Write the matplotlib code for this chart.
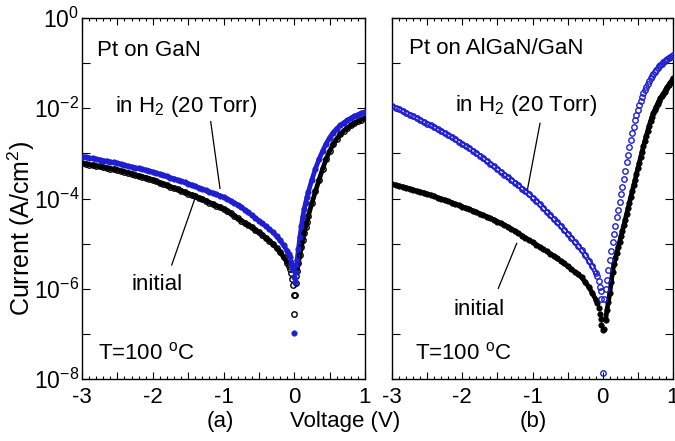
import numpy as np
import matplotlib
matplotlib.use('Agg')
import matplotlib.pyplot as plt
from matplotlib.ticker import MultipleLocator, FixedLocator, FuncFormatter, NullLocator

plt.rcParams['font.family'] = ['Liberation Sans', 'DejaVu Sans']
plt.rcParams['mathtext.fontset'] = 'custom'
plt.rcParams['mathtext.rm'] = 'Liberation Sans'
plt.rcParams['mathtext.it'] = 'Liberation Sans:italic'
plt.rcParams['mathtext.bf'] = 'Liberation Sans:bold'
plt.rcParams['mathtext.default'] = 'regular'
plt.rcParams['axes.unicode_minus'] = False

BLUE = '#1e1ed2'
BLACK = '#000000'

# ---------------- data: log10 of current density (A/cm^2) ----------------
# reverse sweep voltages -3.00 ... -0.10 V (0.05 V step)
v_rev = np.linspace(-3.0, -0.10, 59)

# Panel (a): Pt on GaN
a_init_rev = [-3.22, -3.23, -3.25, -3.26, -3.28, -3.29, -3.31, -3.32, -3.34, -3.35,
              -3.37, -3.39, -3.41, -3.43, -3.45, -3.48, -3.50, -3.52, -3.54, -3.57,
              -3.59, -3.62, -3.65, -3.68, -3.71, -3.74, -3.77, -3.80, -3.83, -3.86,
              -3.89, -3.92, -3.95, -3.99, -4.02, -4.05, -4.09, -4.12, -4.16, -4.19,
              -4.23, -4.28, -4.33, -4.38, -4.44, -4.49, -4.54, -4.59, -4.64, -4.70,
              -4.75, -4.81, -4.88, -4.94, -5.01, -5.10, -5.19, -5.30, -5.42]
a_h2_rev = [-3.07, -3.08, -3.10, -3.11, -3.13, -3.14, -3.16, -3.17, -3.19, -3.20,
            -3.22, -3.24, -3.26, -3.28, -3.30, -3.32, -3.33, -3.35, -3.37, -3.39,
            -3.41, -3.44, -3.46, -3.49, -3.51, -3.54, -3.56, -3.59, -3.62, -3.64,
            -3.67, -3.70, -3.73, -3.76, -3.79, -3.82, -3.85, -3.88, -3.91, -3.94,
            -3.97, -4.01, -4.05, -4.10, -4.14, -4.19, -4.25, -4.31, -4.37, -4.43,
            -4.49, -4.55, -4.62, -4.68, -4.75, -4.84, -4.93, -5.04, -5.16]
a_near_v = [-0.08, -0.06, -0.04, -0.03, -0.02, -0.01, 0.00, 0.01, 0.02, 0.03]
a_init_near = [-5.49, -5.57, -5.66, -5.78, -5.92, -6.13, -6.56, -6.14, -5.88, -5.72]
a_h2_near = [-5.23, -5.30, -5.40, -5.48, -5.58, -5.75, -6.98, -5.85, -5.62, -5.48]
a_fwd_v = [0.04, 0.06, 0.08, 0.10, 0.12, 0.14, 0.16, 0.18, 0.20, 0.25, 0.30, 0.35, 0.40,
           0.45, 0.50, 0.55, 0.60, 0.65, 0.70, 0.75, 0.80, 0.85, 0.90, 0.95, 1.00]
a_init_fwd = [-5.60, -5.42, -5.25, -5.08, -4.92, -4.77, -4.64, -4.51, -4.38, -4.10, -3.84,
              -3.59, -3.35, -3.13, -2.95, -2.80, -2.68, -2.58, -2.50, -2.44, -2.38, -2.33,
              -2.29, -2.25, -2.22]
a_h2_fwd = [-5.37, -5.11, -4.85, -4.62, -4.41, -4.24, -4.10, -3.97, -3.85, -3.58, -3.34,
            -3.13, -2.95, -2.79, -2.65, -2.54, -2.45, -2.38, -2.32, -2.27, -2.22, -2.18,
            -2.14, -2.11, -2.08]

# Panel (b): Pt on AlGaN/GaN
b_init_rev = [-3.68, -3.70, -3.72, -3.74, -3.76, -3.78, -3.81, -3.83, -3.85, -3.87,
              -3.90, -3.92, -3.95, -3.98, -4.01, -4.03, -4.06, -4.09, -4.12, -4.15,
              -4.18, -4.21, -4.24, -4.27, -4.30, -4.34, -4.37, -4.40, -4.44, -4.47,
              -4.51, -4.55, -4.59, -4.63, -4.68, -4.72, -4.77, -4.82, -4.87, -4.92,
              -4.97, -5.02, -5.07, -5.12, -5.17, -5.22, -5.27, -5.32, -5.38, -5.44,
              -5.50, -5.56, -5.62, -5.68, -5.75, -5.85, -5.96, -6.09, -6.24]
b_h2_rev = [-1.95, -1.99, -2.02, -2.06, -2.10, -2.14, -2.18, -2.22, -2.26, -2.30,
            -2.34, -2.38, -2.42, -2.47, -2.51, -2.55, -2.60, -2.64, -2.69, -2.74,
            -2.79, -2.84, -2.89, -2.94, -3.00, -3.05, -3.11, -3.17, -3.23, -3.29,
            -3.35, -3.41, -3.47, -3.53, -3.59, -3.65, -3.71, -3.78, -3.84, -3.91,
            -3.98, -4.05, -4.13, -4.21, -4.29, -4.37, -4.45, -4.53, -4.61, -4.70,
            -4.78, -4.87, -4.96, -5.05, -5.15, -5.25, -5.38, -5.50, -5.65]
b_near_v = [-0.08, -0.06, -0.04, -0.03, -0.02, 0.00, 0.02]
b_init_near = [-6.32, -6.42, -6.55, -6.68, -6.80, -6.92, -6.90]
b_h2_near = [-5.72, -5.83, -5.97, -6.05, -6.22, -7.86, -6.22]
b_fwd_v = np.linspace(0.04, 1.00, 49)
b_init_fwd = [-6.70, -6.47, -6.29, -6.10, -5.86, -5.62, -5.45, -5.32, -5.20,
              -5.08, -4.96, -4.84, -4.71, -4.59, -4.47, -4.34, -4.22, -4.09, -3.96,
              -3.84, -3.71, -3.59, -3.46, -3.33, -3.21, -3.08, -2.96, -2.84, -2.72,
              -2.61, -2.50, -2.39, -2.29, -2.20, -2.11, -2.04, -1.97, -1.90, -1.84,
              -1.78, -1.73, -1.68, -1.63, -1.58, -1.53, -1.48, -1.43, -1.39, -1.34]
b_h2_fwd = [-6.00, -5.80, -5.59, -5.37, -5.17, -4.97, -4.78, -4.60, -4.42,
            -4.25, -4.08, -3.91, -3.74, -3.56, -3.38, -3.20, -3.03, -2.86, -2.70,
            -2.55, -2.41, -2.27, -2.14, -2.03, -1.93, -1.84, -1.75, -1.67, -1.60,
            -1.53, -1.46, -1.40, -1.34, -1.29, -1.24, -1.19, -1.15, -1.11, -1.07,
            -1.04, -1.01, -0.98, -0.95, -0.93, -0.90, -0.88, -0.86, -0.84, -0.82]

ytick_exp = list(range(-8, 1))
xtick_labels = [-3, -2, -1, 0, 1]


def draw(ax, vr, yr, vn, yn, vf, yf, color, filled, band, ring_band=False):
    vr, yr, vn, yn, vf, yf = map(np.asarray, (vr, yr, vn, yn, vf, yf))
    if band:
        for v, y in ((vr, yr), (vf, yf)):
            ax.plot(v, 10.0 ** y, '-', color=color, lw=3.4, solid_capstyle='round',
                    solid_joinstyle='round', zorder=2)
    if ring_band:
        # dense open-circle band of the reverse branch
        ax.plot(vr, 10.0 ** yr, '-', color=color, lw=3.6, solid_capstyle='round', zorder=2)
        ax.plot(vr, 10.0 ** yr, '-', color='white', lw=1.0, solid_capstyle='round', zorder=2.5)
    v_all = np.concatenate([vr, vn, vf])
    y_all = np.concatenate([yr, yn, yf])
    if filled:
        ax.plot(v_all, 10.0 ** y_all, 'o', ls='none', ms=3.9, mfc=color, mec=color,
                mew=0.5, zorder=3)
    else:
        ax.plot(v_all, 10.0 ** y_all, 'o', ls='none', ms=3.9, mfc='none', mec=color,
                mew=1.0, zorder=3)


fig = plt.figure(figsize=(6.75, 4.41), dpi=100)
axa = fig.add_axes([82 / 675, 1 - 379 / 441, 283 / 675, 361 / 441])
axb = fig.add_axes([392 / 675, 1 - 379 / 441, 281 / 675, 361 / 441])

draw(axa, v_rev, a_init_rev, a_near_v, a_init_near, a_fwd_v, a_init_fwd, BLACK, False, True)
draw(axa, v_rev, a_h2_rev, a_near_v, a_h2_near, a_fwd_v, a_h2_fwd, BLUE, True, True)
draw(axb, v_rev, b_init_rev, b_near_v, b_init_near, b_fwd_v, b_init_fwd, BLACK, True, True)
draw(axb, v_rev, b_h2_rev, b_near_v, b_h2_near, b_fwd_v, b_h2_fwd, BLUE, False, False,
     ring_band=True)


def yfmt(val, pos):
    k = int(round(np.log10(val)))
    return f'$10^{{{k}}}$' if k % 2 == 0 else ''


def xfmt(val, pos):
    return f'{int(round(val))}' if abs(val - round(val)) < 1e-6 else ''


for ax in (axa, axb):
    ax.set_yscale('log')
    ax.set_xlim(-3, 1)
    ax.set_ylim(1e-8, 1)
    ax.yaxis.set_major_locator(FixedLocator([10.0 ** k for k in ytick_exp]))
    ax.yaxis.set_minor_locator(NullLocator())
    ax.yaxis.set_major_formatter(FuncFormatter(yfmt))
    ax.xaxis.set_major_locator(MultipleLocator(0.5))
    ax.xaxis.set_minor_locator(MultipleLocator(0.1))
    ax.xaxis.set_major_formatter(FuncFormatter(xfmt))
    ax.tick_params(which='both', direction='in', top=True, right=True, width=0.8, colors='black')
    ax.tick_params(axis='y', which='major', length=6, labelsize=16.5, pad=2)
    ax.tick_params(axis='x', which='major', length=4.7, labelsize=16, pad=5.5)
    ax.tick_params(axis='x', which='minor', length=2.4)
    for s in ax.spines.values():
        s.set_linewidth(1.0)

axb.tick_params(axis='y', labelleft=False)

FS = 16
# panel (a) annotations
axa.text(0.053, 0.895, 'Pt on GaN', transform=axa.transAxes, fontsize=FS, va='baseline')
axa.text(0.117, 0.740, 'in H$_2$ (20 Torr)', transform=axa.transAxes, fontsize=FS, va='baseline')
axa.text(0.176, 0.247, 'initial', transform=axa.transAxes, fontsize=FS, va='baseline')
axa.text(0.058, 0.053, 'T=100 $^{o}$C', transform=axa.transAxes, fontsize=FS, va='baseline')
axa.plot([0.4548, 0.4876], [0.7127, 0.5279], transform=axa.transAxes, color='black', lw=0.9)
axa.plot([0.317, 0.3993], [0.3158, 0.5006], transform=axa.transAxes, color='black', lw=0.9)

# panel (b) annotations
axb.text(0.0605, 0.899, 'Pt on AlGaN/GaN', transform=axb.transAxes, fontsize=FS, va='baseline')
axb.text(0.224, 0.742, 'in H$_2$ (20 Torr)', transform=axb.transAxes, fontsize=FS, va='baseline')
axb.text(0.218, 0.177, 'initial', transform=axb.transAxes, fontsize=FS, va='baseline')
axb.text(0.082, 0.053, 'T=100 $^{o}$C', transform=axb.transAxes, fontsize=FS, va='baseline')
axb.plot([0.5267, 0.4794], [0.7083, 0.5141], transform=axb.transAxes, color='black', lw=0.9)
axb.plot([0.3783, 0.4438], [0.2512, 0.3758], transform=axb.transAxes, color='black', lw=0.9)

fig.text(21 / 675, 1 - 228 / 441, 'Current (A/cm$^2$)', rotation=90, fontsize=18,
         ha='center', va='center')
fig.text(345 / 675, 1 - 421 / 441, 'Voltage (V)', fontsize=16, ha='center', va='center')
fig.text(220 / 675, 1 - 421 / 441, '(a)', fontsize=16, ha='center', va='center')
fig.text(533 / 675, 1 - 421 / 441, '(b)', fontsize=16, ha='center', va='center')

fig.savefig('out.png', dpi=100)
